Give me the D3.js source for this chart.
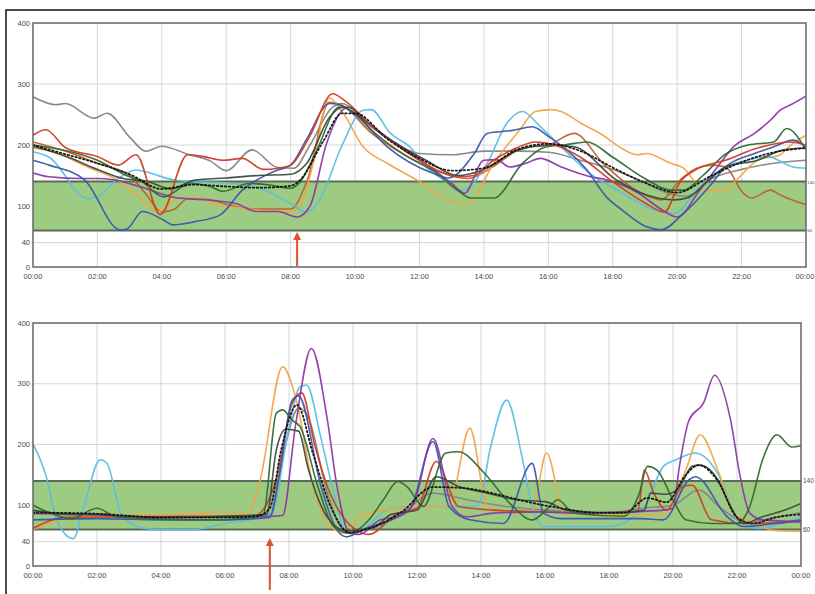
<!DOCTYPE html>
<html>
<head>
<meta charset="utf-8">
<script src="https://cdn.jsdelivr.net/npm/d3@7"></script>
<style>
  body { margin: 0; background: #fff; }
  svg { display: block; }
  .tick-label { font-family: "Liberation Sans", Arial, sans-serif; font-size: 7.5px; fill: #4a4a4a; }
</style>
</head>
<body>
<div id="chart"></div>
<script>
// tick labels
const yTicks = [0, 40, 100, 200, 300, 400];
const xTicks = [0, 2, 4, 6, 8, 10, 12, 14, 16, 18, 20, 22, 24];
const xTickLabels = ['00:00', '02:00', '04:00', '06:00', '08:00', '10:00', '12:00',
  '14:00', '16:00', '18:00', '20:00', '22:00', '00:00'];
const targetRange = [60, 140];

// top panel series: [hour, mg/dL]
const topGray = [[0,279],[0.7,266],[1,268],[1.9,244],[2.3,252],[3,213],[3.5,190],[4,198],[4.8,185],[5.5,174],[6,158],[6.8,192],[7.6,163],[8.1,162],[8.6,200],[9.3,262],[9.6,268],[10.2,245],[11,212],[12,186],[13,184],[14,190],[15,190],[16,188],[17,175],[18,160],[18.8,143],[19.9,118],[20.3,116],[21,143],[22,160],[23,170],[24,175]];
const topRed = [[0,216],[0.4,225],[1,196],[2,181],[2.65,167],[3.2,184],[3.95,86],[4.8,184],[5.3,181],[5.9,175],[6.5,178],[7.15,160],[7.6,162],[8,167],[8.6,215],[9.3,284],[9.7,272],[10.5,232],[11.5,192],[12.5,160],[13.2,148],[13.7,150],[14.3,175],[15,195],[15.6,205],[16.2,200],[17,180],[18,140],[19,105],[19.6,90],[20.1,140],[20.6,160],[21.5,175],[22.5,195],[23.5,205],[24,200]];
const topBrown = [[0,205],[1,190],[2,170],[3,150],[3.5,120],[4,90],[4.4,95],[4.8,112],[5.5,110],[6.2,100],[7,95],[8,95],[8.5,140],[9.2,270],[9.6,265],[10.5,220],[11.5,185],[12.5,158],[13.5,145],[14.3,165],[15.2,195],[16,200],[16.8,219],[17.7,170],[18.75,125],[19.5,110],[20.1,143],[20.6,162],[21.1,167],[21.5,164],[22.05,121],[22.3,113],[22.9,126],[23.2,118],[24,102]];
const topOrange = [[0,195],[0.6,189],[1.7,164],[2.6,143],[3.3,115],[3.9,91],[4.5,113],[5.1,113],[5.7,102],[6.6,96],[7.4,91],[8,90],[8.3,100],[8.7,170],[9.2,277],[9.6,255],[10.25,197],[11,170],[12,140],[13,107],[13.5,104],[14.3,170],[15.1,224],[15.6,255],[16.1,258],[16.4,255],[17,236],[17.7,216],[18.2,197],[18.75,184],[19.05,186],[19.8,170],[20.2,162],[20.5,143],[20.9,126],[21.5,126],[21.85,143],[22.5,175],[23.2,184],[23.6,203],[24,216]];
const topLightBlue = [[0,189],[0.5,180],[1.7,112],[2,115],[2.6,143],[3.2,159],[3.5,156],[4.35,143],[4.9,140],[6,138],[7.2,126],[8,104],[8.5,90],[8.9,110],[9.6,200],[10.25,257],[10.5,258],[11.1,219],[11.7,197],[12.2,164],[12.75,143],[13.3,126],[14.1,170],[14.7,235],[15.2,255],[15.75,230],[16.4,197],[17.3,153],[18.3,121],[19.3,93],[19.9,88],[20.7,132],[21.5,164],[22.2,175],[22.8,181],[23.6,164],[24,162]];
const topBlue = [[0,175],[0.5,167],[1.6,143],[2.7,61],[2.9,62],[3.4,91],[4.05,77],[4.35,69],[5,74],[5.8,85],[6.5,126],[7.25,151],[7.6,159],[8,167],[8.5,210],[9.2,268],[9.5,266],[10,250],[11,197],[12.4,154],[12.9,146],[13.7,186],[14.1,219],[14.9,224],[15.5,230],[16,214],[17.2,159],[17.8,115],[18.3,93],[19.05,66],[19.5,61],[20.2,88],[21,132],[21.5,164],[22.4,186],[23,197],[23.6,208],[24,197]];
const topPurple = [[0,154],[0.5,148],[1.5,145],[2,145],[2.5,143],[3.3,132],[4.5,113],[5.4,110],[6.3,104],[6.95,91],[7.6,91],[8.2,82],[8.6,100],[9.1,200],[9.6,257],[9.8,262],[10.5,230],[11.5,195],[12.3,165],[13,137],[13.4,121],[14,175],[14.4,176],[14.8,164],[15.3,170],[15.75,178],[16.4,164],[17.3,148],[17.8,143],[18.8,121],[19.55,93],[20,82],[20.7,126],[21.25,164],[21.75,197],[22.4,219],[22.9,241],[23.2,257],[23.6,268],[24,280]];
const topDarkGreen = [[0,200],[2,175],[3,148],[3.3,143],[4.05,115],[4.9,137],[5.5,132],[5.9,124],[6.7,137],[7.4,134],[8,129],[8.3,140],[8.8,190],[9.5,262],[9.8,262],[10.5,225],[11.5,185],[12.5,155],[13.2,125],[13.6,113],[14.3,113],[15.2,170],[15.95,197],[16.5,200],[17.2,205],[18,180],[19,145],[19.8,126],[20.2,126],[20.8,150],[21.5,185],[22.2,200],[23,205],[23.4,227],[24,192]];
const topBlack = [[0,198],[1,182],[2,160],[2.8,145],[3.5,141],[4.3,128],[5,142],[6,146],[7,150],[8,152],[8.5,170],[9.2,245],[9.6,262],[10.3,240],[11.2,205],[12.2,175],[13.2,150],[14,160],[15,190],[16,200],[16.8,197],[18.1,143],[19.05,118],[19.9,110],[20.3,113],[21,143],[21.5,164],[22.5,175],[23.3,192],[24,195]];
const topMean = [[0,200],[1,185],[2,170],[3,152],[4,128],[5,135],[6,132],[7,130],[8,133],[8.3,143],[9,205],[9.6,252],[10,252],[11,210],[12,178],[13,158],[14,162],[15,192],[16,202],[17,190],[18,163],[19,138],[20,122],[21,148],[22,172],[23,188],[24,195]];

// bottom panel series: [hour, mg/dL]
const botLightBlue = [[0,201],[0.4,150],[0.74,76],[1.26,45],[1.6,100],[2.1,175],[2.3,170],[2.8,81],[3.5,62],[4,60],[5,60],[6,70],[6.8,76],[7.5,90],[7.9,200],[8.35,295],[8.55,298],[9,210],[9.4,120],[9.8,54],[10.3,60],[11,90],[11.8,98],[13.9,98],[14.3,196],[14.8,273],[15.3,175],[15.6,98],[15.95,65],[18,65],[19.1,98],[19.7,164],[20.1,175],[20.7,186],[21.5,142],[22,76],[22.7,62],[23.4,70],[24,81]];
const botOrange = [[0,60],[1.3,81],[3,84],[5,86],[5.95,89],[6.7,87],[7.1,142],[7.8,328],[8.2,279],[8.76,131],[9.3,65],[9.8,54],[10.2,81],[11.4,95],[12.1,98],[13,98],[13.65,227],[14.2,98],[15,87],[15.6,90],[16.05,186],[16.6,87],[18,84],[19.7,84],[20.4,158],[20.85,216],[21.4,158],[21.9,87],[22.6,70],[23.1,59],[24,57]];
const botPurple = [[0,86],[0.7,86],[1.7,86],[3,82],[5,80],[7,81],[7.8,83],[8.2,230],[8.7,358],[9.2,240],[9.5,131],[9.9,54],[10.2,52],[10.85,76],[11.4,81],[11.9,103],[12.5,210],[13.1,98],[13.55,81],[14.4,87],[16,89],[17,87],[18.5,89],[19.7,92],[20,95],[20.2,164],[20.5,240],[20.95,268],[21.3,314],[21.8,240],[22.1,147],[22.4,87],[22.8,76],[24,73]];
const botBlue = [[0,76],[2,78],[4,76],[6,76],[7.4,80],[7.7,150],[8.1,273],[8.3,280],[9,131],[9.5,59],[9.8,48],[10.3,60],[11.4,81],[11.8,95],[12.5,205],[13,98],[13.65,76],[14.7,70],[15.6,169],[15.95,87],[16.5,78],[19,78],[19.7,76],[20.5,142],[20.7,147],[21.7,81],[22.2,65],[23.2,70],[24,76]];
const botDarkGreen = [[0,100],[0.5,88],[1.2,78],[2,95],[2.6,81],[3.5,78],[5.5,76],[6.7,78],[7.2,85],[7.6,251],[7.8,257],[8.1,240],[8.35,229],[8.9,131],[9.4,65],[9.9,54],[10.5,76],[10.95,109],[11.4,139],[11.7,130],[12.2,98],[12.9,186],[13.3,188],[14.1,153],[14.9,103],[15.6,76],[16.15,98],[16.4,109],[16.9,87],[18.45,82],[18.95,120],[19.2,164],[19.5,158],[20,109],[20.4,76],[21.2,70],[22,70],[22.4,98],[22.8,175],[23.25,216],[23.7,196],[24,198]];
const botBlack = [[0,92],[1,85],[2,84],[4,80],[6,82],[7.3,85],[7.6,190],[7.9,225],[8.3,222],[8.6,160],[9.2,80],[9.8,58],[10.6,62],[11.2,85],[12,92],[12.6,147],[13.3,131],[14.2,120],[15.1,109],[16,106],[16.7,92],[18.2,87],[19.1,92],[19.3,120],[19.8,118],[20.2,130],[20.6,164],[20.85,166],[21.4,142],[21.8,98],[22.2,70],[22.8,81],[23.5,92],[24,103]];
const botRed = [[0,62],[1,80],[3,81],[5,82],[6.9,82],[7.6,142],[8.1,268],[8.4,285],[8.8,200],[9.2,131],[10.3,54],[10.5,52],[11.4,87],[12,95],[12.6,172],[13.3,98],[14.4,92],[16,89],[17.5,87],[18.9,90],[19.1,158],[19.4,120],[19.8,92],[20.3,131],[20.6,133],[21.2,76],[22.2,70],[24,73]];
const botGray = [[0,90],[1,86],[2,84],[4,80],[6,82],[7.4,84],[7.8,180],[8.3,260],[8.6,245],[9.2,120],[9.8,56],[10.5,60],[11.5,85],[12.5,120],[13.5,110],[14.5,100],[16,92],[18,88],[19,95],[20,100],[20.8,125],[21.5,95],[22.3,72],[23.2,80],[24,88]];
const botMean = [[0,88],[2,86],[4,80],[6,80],[7,82],[7.4,95],[7.75,190],[8.25,265],[8.75,185],[9.3,98],[9.9,55],[10.5,62],[11.5,88],[12.5,130],[13.5,128],[14.5,118],[15.5,105],[16.5,95],[17.5,88],[18.5,88],[19.2,112],[19.8,105],[20.4,150],[20.8,166],[21.4,140],[22,80],[22.5,70],[23.2,80],[24,85]];

const colors = {
  gray: '#848484', red: '#d23b22', brown: '#c0602a', orange: '#f2a444',
  lightBlue: '#5cbde5', blue: '#3b55ad', purple: '#8b38a6', darkGreen: '#2f6a34',
  black: '#3c4a3c'
};

const topSeries = [
  { data: topGray, color: colors.gray },
  { data: topBrown, color: colors.brown },
  { data: topOrange, color: colors.orange },
  { data: topLightBlue, color: colors.lightBlue },
  { data: topPurple, color: colors.purple },
  { data: topBlue, color: colors.blue },
  { data: topDarkGreen, color: colors.darkGreen },
  { data: topBlack, color: colors.black },
  { data: topRed, color: colors.red },
  { data: topMean, color: '#111', dotted: true }
];
const botSeries = [
  { data: botGray, color: colors.gray },
  { data: botLightBlue, color: colors.lightBlue },
  { data: botOrange, color: colors.orange },
  { data: botRed, color: colors.red },
  { data: botBlue, color: colors.blue },
  { data: botPurple, color: colors.purple },
  { data: botDarkGreen, color: colors.darkGreen },
  { data: botBlack, color: colors.black },
  { data: botMean, color: '#111', dotted: true }
];

const svg = d3.select('#chart').append('svg')
  .attr('width', 815)
  .attr('height', 594);

// outer frame of the figure
svg.append('path')
  .attr('d', 'M6,594 V10 H815')
  .attr('fill', 'none')
  .attr('stroke', '#111')
  .attr('stroke-width', 1.5);

function drawPanel(cfg) {
  const x = d3.scaleLinear().domain([0, 24]).range([cfg.left, cfg.right]);
  const y = d3.scaleLinear().domain([0, 400]).range([cfg.bottom, cfg.top]);
  const g = svg.append('g');

  const clipId = 'clip-' + cfg.name;
  g.append('clipPath').attr('id', clipId)
    .append('rect')
    .attr('x', cfg.left).attr('y', cfg.top)
    .attr('width', cfg.right - cfg.left).attr('height', cfg.bottom - cfg.top);

  // grid
  g.append('g').selectAll('line').data(xTicks.slice(1, -1)).join('line')
    .attr('x1', d => x(d)).attr('x2', d => x(d))
    .attr('y1', cfg.top).attr('y2', cfg.bottom)
    .attr('stroke', '#d6d6d6').attr('stroke-width', 1);
  g.append('g').selectAll('line').data(yTicks.slice(1, -1)).join('line')
    .attr('x1', cfg.left).attr('x2', cfg.right)
    .attr('y1', d => y(d)).attr('y2', d => y(d))
    .attr('stroke', '#d6d6d6').attr('stroke-width', 1);

  // target band
  g.append('rect')
    .attr('x', cfg.left).attr('width', cfg.right - cfg.left)
    .attr('y', y(targetRange[1])).attr('height', y(targetRange[0]) - y(targetRange[1]))
    .attr('fill', '#9dcb82');
  g.append('g').selectAll('line').data(targetRange).join('line')
    .attr('x1', cfg.left).attr('x2', cfg.right)
    .attr('y1', d => y(d)).attr('y2', d => y(d))
    .attr('stroke', '#5a6a58').attr('stroke-width', 2);

  // series
  const line = d3.line()
    .x(d => x(d[0]))
    .y(d => y(d[1]))
    .curve(d3.curveMonotoneX);
  g.append('g').attr('clip-path', `url(#${clipId})`)
    .selectAll('path').data(cfg.series).join('path')
    .attr('d', s => line(s.data))
    .attr('fill', 'none')
    .attr('stroke', s => s.color)
    .attr('stroke-width', s => s.dotted ? 1.8 : 1.6)
    .attr('stroke-dasharray', s => s.dotted ? '1.5,2.5' : null)
    .attr('stroke-linecap', s => s.dotted ? 'round' : null)
    .attr('opacity', 0.95);

  // plot border
  g.append('rect')
    .attr('x', cfg.left).attr('y', cfg.top)
    .attr('width', cfg.right - cfg.left).attr('height', cfg.bottom - cfg.top)
    .attr('fill', 'none').attr('stroke', '#666').attr('stroke-width', 1.5);

  // axes labels
  g.append('g').selectAll('text').data(yTicks).join('text')
    .attr('class', 'tick-label')
    .attr('x', cfg.left - 3).attr('y', d => y(d) + 2.5)
    .attr('text-anchor', 'end')
    .text(d => d);
  g.append('g').selectAll('text').data(xTicks).join('text')
    .attr('class', 'tick-label')
    .attr('x', (d, i) => i === xTicks.length - 1 ? Math.min(x(d), 815 - 10) : x(d))
    .attr('y', cfg.bottom + 12)
    .attr('text-anchor', 'middle')
    .text((d, i) => xTickLabels[i]);
  // range labels in the narrow right margin
  g.append('g').selectAll('text').data(targetRange).join('text')
    .attr('class', 'tick-label')
    .attr('x', cfg.right + cfg.labelGap).attr('y', d => y(d) + 2)
    .style('font-size', cfg.rangeFont + 'px')
    .text(d => d);

  // event arrow
  const ax = x(cfg.arrowAt);
  g.append('line')
    .attr('x1', ax).attr('x2', ax)
    .attr('y1', cfg.arrowY[0] + 6).attr('y2', cfg.arrowY[1])
    .attr('stroke', '#e0502e').attr('stroke-width', 2);
  g.append('path')
    .attr('d', `M${ax - 4},${cfg.arrowY[0] + 8} L${ax},${cfg.arrowY[0]} L${ax + 4},${cfg.arrowY[0] + 8} Z`)
    .attr('fill', '#e0502e');
}

drawPanel({ name: 'top', left: 33, right: 806, top: 23, bottom: 267,
  series: topSeries, arrowAt: 8.2, arrowY: [232, 266], labelGap: 1.2, rangeFont: 4.4 });
drawPanel({ name: 'bottom', left: 33, right: 801, top: 323, bottom: 566,
  series: botSeries, arrowAt: 7.4, arrowY: [538, 590], labelGap: 2, rangeFont: 6.5 });
</script>
</body>
</html>
